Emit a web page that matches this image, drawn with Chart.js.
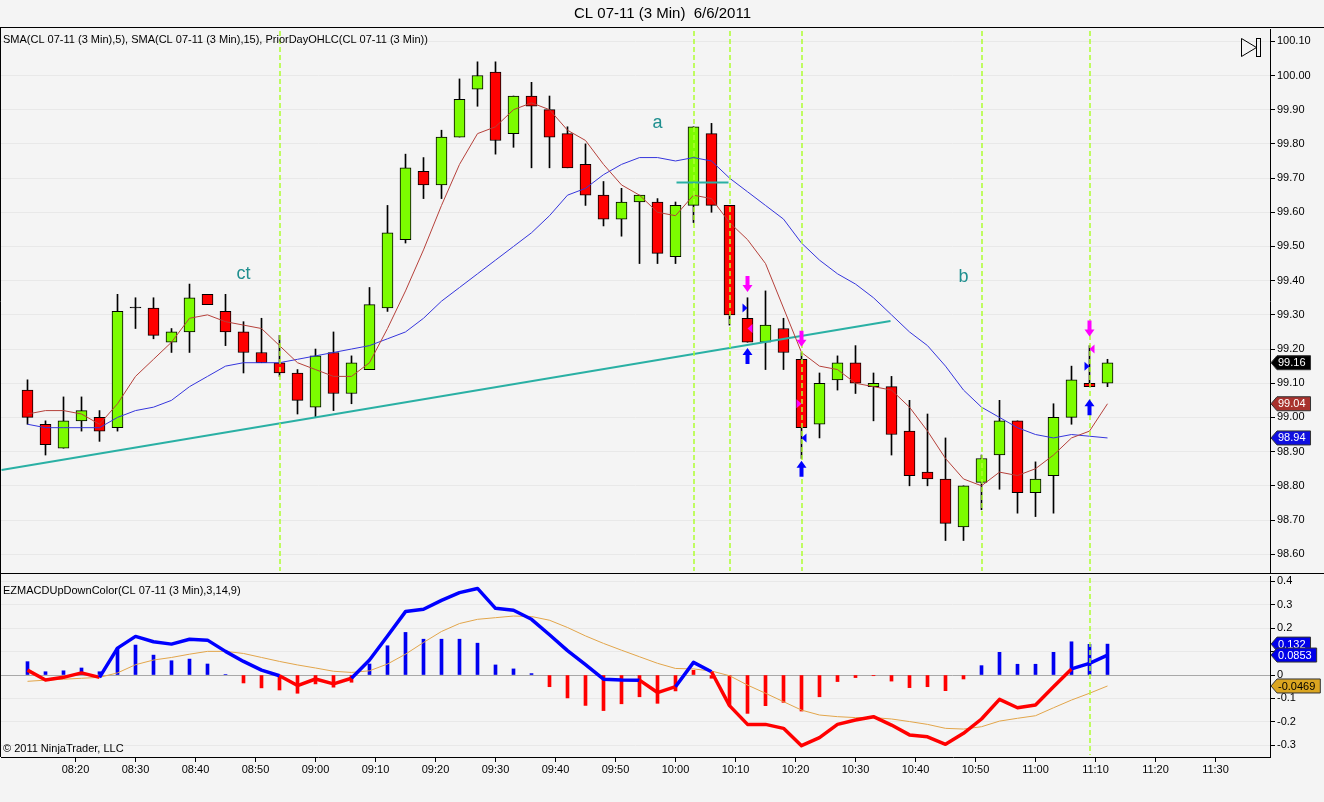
<!DOCTYPE html>
<html>
<head>
<meta charset="utf-8">
<title>CL 07-11 (3 Min) 6/6/2011</title>
<script src="https://cdn.jsdelivr.net/npm/chart.js@4.4.1/dist/chart.umd.min.js"></script>
<style>
  html, body { margin: 0; padding: 0; background: #f4f4f4; overflow: hidden; }
  #wrap { position: relative; width: 1324px; height: 802px; }
  #priceChart { position: absolute; left: 0; top: 0; }
  #macdChart { position: absolute; left: 0; top: 575px; }
</style>
</head>
<body>
<div id="wrap">
  <canvas id="priceChart" width="1324" height="575"></canvas>
  <canvas id="macdChart" width="1324" height="227"></canvas>
</div>
<script>
// 3 min bars
const times = ['08:12','08:15','08:18','08:21','08:24','08:27','08:30','08:33','08:36','08:39',
  '08:42','08:45','08:48','08:51','08:54','08:57','09:00','09:03','09:06','09:09',
  '09:12','09:15','09:18','09:21','09:24','09:27','09:30','09:33','09:36','09:39',
  '09:42','09:45','09:48','09:51','09:54','09:57','10:00','10:03','10:06','10:09',
  '10:12','10:15','10:18','10:21','10:24','10:27','10:30','10:33','10:36','10:39',
  '10:42','10:45','10:48','10:51','10:54','10:57','11:00','11:03','11:06','11:09','11:12'];

const opens = [99.08, 98.98, 98.91, 98.99, 99.00, 98.97, 99.32, 99.32, 99.22, 99.25,
  99.36, 99.31, 99.25, 99.19, 99.16, 99.13, 99.03, 99.19, 99.07, 99.14,
  99.32, 99.52, 99.72, 99.68, 99.82, 99.96, 100.01, 99.83, 99.94, 99.90,
  99.83, 99.74, 99.65, 99.58, 99.63, 99.63, 99.47, 99.62, 99.83, 99.62,
  99.29, 99.22, 99.26, 99.17, 98.98, 99.11, 99.16, 99.09, 99.09, 98.96,
  98.84, 98.82, 98.68, 98.81, 98.89, 98.99, 98.78, 98.83, 99.00, 99.10, 99.10];
const highs = [99.11, 98.99, 99.06, 99.06, 99.02, 99.36, 99.35, 99.35, 99.26, 99.39,
  99.36, 99.36, 99.28, 99.29, 99.24, 99.14, 99.20, 99.25, 99.18, 99.38,
  99.62, 99.77, 99.76, 99.84, 99.99, 100.04, 100.04, 99.94, 99.98, 99.94,
  99.85, 99.80, 99.69, 99.67, 99.65, 99.64, 99.63, 99.85, 99.86, 99.62,
  99.35, 99.37, 99.29, 99.19, 99.13, 99.18, 99.21, 99.13, 99.12, 99.05,
  99.01, 98.94, 98.80, 98.89, 99.05, 98.99, 98.87, 99.04, 99.15, 99.21, 99.17];
const lows = [98.98, 98.89, 98.91, 98.96, 98.93, 98.96, 99.26, 99.23, 99.19, 99.19,
  99.33, 99.21, 99.13, 99.16, 99.12, 99.01, 99.00, 99.02, 99.04, 99.14,
  99.31, 99.51, 99.64, 99.64, 99.82, 99.91, 99.77, 99.79, 99.73, 99.73,
  99.73, 99.62, 99.56, 99.53, 99.45, 99.45, 99.45, 99.57, 99.60, 99.27,
  99.22, 99.14, 99.14, 98.88, 98.94, 99.08, 99.07, 98.99, 98.89, 98.80,
  98.80, 98.64, 98.64, 98.73, 98.79, 98.72, 98.71, 98.72, 98.98, 99.09, 99.09];
const closes = [99.00, 98.92, 98.99, 99.02, 98.96, 99.31, 99.32, 99.24, 99.25, 99.35,
  99.33, 99.25, 99.19, 99.16, 99.13, 99.05, 99.18, 99.07, 99.16, 99.33,
  99.54, 99.73, 99.68, 99.82, 99.93, 100.00, 99.81, 99.94, 99.91, 99.82,
  99.73, 99.65, 99.58, 99.63, 99.65, 99.48, 99.62, 99.85, 99.62, 99.30,
  99.22, 99.27, 99.19, 98.97, 99.10, 99.16, 99.10, 99.10, 98.95, 98.83,
  98.82, 98.69, 98.80, 98.88, 98.99, 98.78, 98.82, 99.00, 99.11, 99.09, 99.16];

// SMA(5) and SMA(15)
const sma5 = [99.01, 99.02, 99.02, 99.01, 98.98, 99.04, 99.12, 99.17, 99.22, 99.29,
  99.30, 99.28, 99.27, 99.26, 99.21, 99.16, 99.14, 99.12, 99.12, 99.16,
  99.26, 99.37, 99.49, 99.62, 99.74, 99.83, 99.85, 99.90, 99.92, 99.90,
  99.84, 99.81, 99.74, 99.68, 99.65, 99.60, 99.59, 99.65, 99.64, 99.57,
  99.52, 99.45, 99.32, 99.19, 99.15, 99.14, 99.10, 99.09, 99.08, 99.03,
  98.96, 98.88, 98.82, 98.80, 98.84, 98.83, 98.85, 98.89, 98.94, 98.96, 99.04];
const sma15 = [98.98, 98.97, 98.97, 98.97, 98.97, 99.00, 99.02, 99.03, 99.05, 99.09,
  99.12, 99.15, 99.16, 99.16, 99.16, 99.17, 99.18, 99.19, 99.20, 99.21,
  99.23, 99.25, 99.29, 99.34, 99.38, 99.42, 99.46, 99.50, 99.54, 99.59,
  99.65, 99.67, 99.71, 99.74, 99.76, 99.76, 99.75, 99.76, 99.75, 99.70,
  99.66, 99.62, 99.58, 99.51, 99.46, 99.42, 99.39, 99.35, 99.30, 99.25,
  99.21, 99.15, 99.08, 99.03, 99.00, 98.97, 98.95, 98.94, 98.95, 98.945, 98.94];

// EZMACDUpDownColor(3,14,9)
const macd = [0.021, -0.021, -0.010, 0.009, -0.010, 0.115, 0.165, 0.142, 0.132, 0.153,
  0.149, 0.101, 0.058, 0.021, -0.003, -0.045, -0.017, -0.038, -0.014, 0.064,
  0.167, 0.271, 0.281, 0.319, 0.352, 0.370, 0.285, 0.277, 0.238, 0.172,
  0.104, 0.044, -0.018, -0.021, -0.022, -0.075, -0.050, 0.054, 0.014, -0.131,
  -0.211, -0.211, -0.228, -0.302, -0.268, -0.211, -0.192, -0.178, -0.214, -0.256,
  -0.264, -0.296, -0.249, -0.188, -0.104, -0.140, -0.128, -0.050, 0.026, 0.050, 0.0853];
const signal = [-0.027, -0.022, -0.018, -0.014, -0.010, 0.009, 0.044, 0.064, 0.075, 0.089,
  0.101, 0.101, 0.092, 0.075, 0.058, 0.043, 0.030, 0.016, 0.011, 0.018,
  0.047, 0.089, 0.139, 0.186, 0.220, 0.238, 0.245, 0.252, 0.250, 0.234,
  0.203, 0.167, 0.135, 0.106, 0.078, 0.050, 0.028, 0.026, 0.017, -0.003,
  -0.043, -0.078, -0.114, -0.150, -0.171, -0.178, -0.182, -0.182, -0.188, -0.199,
  -0.211, -0.228, -0.231, -0.221, -0.197, -0.185, -0.174, -0.140, -0.107, -0.078, -0.0469];
const hist = [0.057, 0.014, 0.018, 0.030, 0.014, 0.115, 0.128, 0.085, 0.061, 0.068,
  0.047, 0.002, -0.034, -0.055, -0.064, -0.078, -0.038, -0.052, -0.031, 0.047,
  0.125, 0.182, 0.153, 0.153, 0.153, 0.136, 0.043, 0.026, 0.006, -0.050,
  -0.098, -0.130, -0.152, -0.123, -0.093, -0.121, -0.068, 0.020, -0.014, -0.128,
  -0.164, -0.131, -0.117, -0.154, -0.093, -0.028, -0.011, -0.003, -0.026, -0.054,
  -0.050, -0.067, -0.017, 0.040, 0.097, 0.046, 0.046, 0.097, 0.142, 0.131, 0.132];
// up/down colour per bar (b = blue, r = red)
const macdSide = 'rrrrrbbbbbbbbbbrrrrbbbbbbbbbbbbbbbbrrbbrrrrrrrrrrrrrrrrrrrrbb';
const histSide = 'bbbbbbbbbbbbrrrrrrrbbbbbbbbbbrrrrrrrrrrrrrrrrrrrrrrrrbbbbbbbb';

// axis ticks
const priceTicks = [98.6, 98.7, 98.8, 98.9, 99.0, 99.1, 99.2, 99.3, 99.4, 99.5, 99.6, 99.7, 99.8, 99.9, 100.0, 100.1];
const macdTicks = [-0.3, -0.2, -0.1, 0, 0.1, 0.2, 0.3, 0.4];
const timeTicks = ['08:20','08:30','08:40','08:50','09:00','09:10','09:20','09:30','09:40','09:50',
  '10:00','10:10','10:20','10:30','10:40','10:50','11:00','11:10','11:20','11:30'];

// drawn objects
const trendTimes = ['08:07:40', '10:35:50'];
const trendPrices = [98.846, 99.282];
const levelTimes = ['10:00:10', '10:08:50'];
const levelPrices = [99.687, 99.687];
const noteText = ['ct', 'a', 'b'];
const noteTimes = ['08:48', '09:57', '10:48'];
const notePrices = [99.42, 99.86, 99.41];
const markBars = [41, 41, 41, 41, 44, 44, 44, 44, 60, 60, 60, 60];
const markPrices = [99.39, 99.32, 99.26, 99.18, 99.23, 99.04, 98.94, 98.85, 99.26, 99.15, 99.20, 99.03];
const markKinds = ['dn', 'bR', 'mL', 'up', 'dn', 'mR', 'bL', 'up', 'dn', 'bR', 'mL', 'up'];
const vlineBars = [15, 38, 40, 44, 54, 60];
const macdVlineBars = [60];

const FONT = '"Liberation Sans", Arial, sans-serif';
Chart.defaults.font.family = FONT;
Chart.defaults.font.size = 11;
Chart.defaults.color = '#000';

const toMin = s => { const p = s.split(':').map(Number); return (p[0] - 8) * 60 + p[1] + (p[2] || 0) / 60; };
const xs = times.map(toMin);
const X_MIN = 7.5833, X_MAX = 219.0833;
const GREEN = '#7cfc00', RED = '#ff0000', BLUE = '#0000f0';
const DASH = 'rgba(173,255,47,0.75)';

function pts(xv, yv) { return xv.map((x, i) => ({ x: x, y: yv[i] })); }

// no label overhang padding, panels are butted together like the original
function noPad(s) { s.paddingTop = 0; s.paddingBottom = 0; s.paddingLeft = 0; s.paddingRight = 0; }

function tag(ctx, x, y, text, bg, fg) {
  ctx.font = '11px ' + FONT;
  const w = ctx.measureText(text).width + 12;
  ctx.beginPath();
  ctx.moveTo(x, y);
  ctx.lineTo(x + 6, y - 7);
  ctx.lineTo(x + w, y - 7);
  ctx.lineTo(x + w, y + 7);
  ctx.lineTo(x + 6, y + 7);
  ctx.closePath();
  ctx.fillStyle = bg;
  ctx.fill();
  ctx.strokeStyle = '#333';
  ctx.lineWidth = 1;
  ctx.stroke();
  ctx.fillStyle = fg;
  ctx.textAlign = 'left';
  ctx.textBaseline = 'middle';
  ctx.fillText(text, x + 7, y + 0.5);
}

function arrow(ctx, x, y, up, color) {
  const s = up ? -1 : 1;
  ctx.fillStyle = color;
  ctx.beginPath();
  ctx.moveTo(x - 2, y - 8 * s);
  ctx.lineTo(x + 2, y - 8 * s);
  ctx.lineTo(x + 2, y + 1 * s);
  ctx.lineTo(x + 5, y + 1 * s);
  ctx.lineTo(x, y + 8 * s);
  ctx.lineTo(x - 5, y + 1 * s);
  ctx.lineTo(x - 2, y + 1 * s);
  ctx.closePath();
  ctx.fill();
}

function tri(ctx, x, y, right, color) {
  ctx.fillStyle = color;
  ctx.beginPath();
  if (right) {
    ctx.moveTo(x - 2, y - 4.5); ctx.lineTo(x + 3, y); ctx.lineTo(x - 2, y + 4.5);
  } else {
    ctx.moveTo(x + 2, y - 4.5); ctx.lineTo(x - 3, y); ctx.lineTo(x + 2, y + 4.5);
  }
  ctx.closePath();
  ctx.fill();
}

function dashedBars(chart, bars) {
  const { ctx, chartArea: a, scales: { x } } = chart;
  ctx.save();
  ctx.strokeStyle = DASH;
  ctx.lineWidth = 2;
  ctx.setLineDash([5, 3]);
  bars.forEach(b => {
    const px = Math.round(x.getPixelForValue(xs[b - 1]));
    ctx.beginPath();
    ctx.moveTo(px, a.top + 2);
    ctx.lineTo(px, a.bottom - 2);
    ctx.stroke();
  });
  ctx.restore();
}

const priceExtras = {
  id: 'priceExtras',
  afterDraw(chart) {
    const { ctx, chartArea: a, scales: { x, y } } = chart;
    dashedBars(chart, vlineBars);
    ctx.save();

    // signal markers
    markBars.forEach((b, i) => {
      const px = x.getPixelForValue(xs[b - 1]);
      const py = y.getPixelForValue(markPrices[i]);
      const k = markKinds[i];
      if (k === 'dn') arrow(ctx, px, py, false, '#ff00ff');
      else if (k === 'up') arrow(ctx, px, py, true, '#0000ff');
      else if (k === 'bR') tri(ctx, px - 3, py, true, '#0000ff');
      else if (k === 'bL') tri(ctx, px + 3, py, false, '#0000ff');
      else if (k === 'mR') tri(ctx, px - 3, py, true, '#ff00ff');
      else if (k === 'mL') tri(ctx, px + 3, py, false, '#ff00ff');
    });

    // text notes
    ctx.fillStyle = '#1f8f8f';
    ctx.font = '18px ' + FONT;
    ctx.textAlign = 'center';
    ctx.textBaseline = 'middle';
    noteText.forEach((t, i) => {
      ctx.fillText(t, x.getPixelForValue(toMin(noteTimes[i])), y.getPixelForValue(notePrices[i]));
    });

    // indicator legend
    ctx.fillStyle = '#000';
    ctx.font = '11px ' + FONT;
    ctx.textAlign = 'left';
    ctx.fillText('SMA(CL 07-11 (3 Min),5), SMA(CL 07-11 (3 Min),15), PriorDayOHLC(CL 07-11 (3 Min))', 3, 40, 428);

    // frame
    ctx.strokeStyle = '#000';
    ctx.lineWidth = 1;
    ctx.beginPath();
    ctx.moveTo(0, 27.5); ctx.lineTo(chart.width, 27.5);
    ctx.moveTo(0, a.bottom + 0.5); ctx.lineTo(chart.width, a.bottom + 0.5);
    ctx.moveTo(0.5, 27.5); ctx.lineTo(0.5, chart.height);
    ctx.stroke();

    // play-to-end icon
    ctx.beginPath();
    ctx.moveTo(1241.5, 38.5); ctx.lineTo(1256.5, 47.5); ctx.lineTo(1241.5, 56.5); ctx.closePath();
    ctx.stroke();
    ctx.strokeRect(1256.5, 38.5, 4, 18);

    // last value tags
    const n = closes.length - 1;
    tag(ctx, a.right + 1, y.getPixelForValue(closes[n]), closes[n].toFixed(2), '#000', '#fff');
    tag(ctx, a.right + 1, y.getPixelForValue(sma5[n]), sma5[n].toFixed(2), '#a8322d', '#fff');
    tag(ctx, a.right + 1, y.getPixelForValue(sma15[n]), sma15[n].toFixed(2), '#1010e0', '#fff');
    ctx.restore();
  }
};

const macdExtras = {
  id: 'macdExtras',
  afterDraw(chart) {
    const { ctx, chartArea: a, scales: { y } } = chart;
    dashedBars(chart, macdVlineBars);
    ctx.save();
    ctx.fillStyle = '#000';
    ctx.font = '11px ' + FONT;
    ctx.textAlign = 'left';
    ctx.textBaseline = 'middle';
    ctx.fillText('EZMACDUpDownColor(CL 07-11 (3 Min),3,14,9)', 3, 16, 238);
    ctx.fillText('\u00a9 2011 NinjaTrader, LLC', 3, a.bottom - 8, 124);
    ctx.strokeStyle = '#000';
    ctx.lineWidth = 1;
    ctx.beginPath();
    ctx.moveTo(0.5, 0); ctx.lineTo(0.5, a.bottom);
    ctx.stroke();
    const n = macd.length - 1;
    const fmt = v => String(Number(v.toPrecision(3)));
    tag(ctx, a.right + 1, y.getPixelForValue(hist[n]), fmt(hist[n]), '#0000e8', '#fff');
    tag(ctx, a.right + 1, y.getPixelForValue(macd[n]), fmt(macd[n]), '#0000e8', '#fff');
    tag(ctx, a.right + 1, y.getPixelForValue(signal[n]), fmt(signal[n]), '#daa520', '#000');
    ctx.restore();
  }
};

const yAxisBase = {
  position: 'right',
  afterFit: s => { s.width = 54; noPad(s); },
  grid: { color: '#e8e8e8', tickColor: '#000', tickLength: 5 },
  border: { color: '#000' },
  ticks: { padding: 2, color: '#000', font: { size: 11 } }
};

new Chart(document.getElementById('priceChart'), {
  type: 'bar',
  data: {
    datasets: [
      { type: 'line', label: 'SMA 5', data: pts(xs, sma5), borderColor: '#b5403a', borderWidth: 1, pointRadius: 0, order: 0 },
      { type: 'line', label: 'SMA 15', data: pts(xs, sma15), borderColor: '#3535dc', borderWidth: 1, pointRadius: 0, order: 0 },
      { type: 'line', label: 'Trend', data: pts(trendTimes.map(toMin), trendPrices), borderColor: '#2ab0a4', borderWidth: 2, pointRadius: 0, order: 0 },
      { type: 'line', label: 'Level', data: pts(levelTimes.map(toMin), levelPrices), borderColor: '#2ab0a4', borderWidth: 2, pointRadius: 0, order: 0 },
      {
        label: 'Body',
        data: xs.map((x, i) => ({ x: x, y: [opens[i], closes[i]] })),
        backgroundColor: closes.map((c, i) => c > opens[i] ? GREEN : (c < opens[i] ? RED : '#000')),
        borderColor: '#000', borderWidth: 1, borderSkipped: false,
        barThickness: 11, minBarLength: 1, grouped: false, order: 1
      },
      {
        label: 'Wick',
        data: xs.map((x, i) => ({ x: x, y: [lows[i], highs[i]] })),
        backgroundColor: '#000', borderWidth: 0,
        barThickness: 1, grouped: false, order: 2
      }
    ]
  },
  options: {
    responsive: false,
    devicePixelRatio: 1,
    animation: false,
    events: [],
    layout: { padding: { left: 1, right: 0, top: 0, bottom: 2 } },
    plugins: {
      legend: { display: false },
      tooltip: { enabled: false },
      title: {
        display: true,
        text: 'CL 07-11 (3 Min)  6/6/2011',
        color: '#000',
        font: { size: 15, weight: 'normal' },
        padding: { top: 5, bottom: 6 }
      }
    },
    scales: {
      x: { type: 'linear', display: false, min: X_MIN, max: X_MAX, offset: false, grid: { offset: false } },
      y: Object.assign({}, yAxisBase, {
        min: 98.545, max: 100.136,
        afterBuildTicks: s => { s.ticks = priceTicks.map(v => ({ value: v })); },
        ticks: Object.assign({}, yAxisBase.ticks, { callback: v => v.toFixed(2) })
      })
    }
  },
  plugins: [priceExtras]
});

new Chart(document.getElementById('macdChart'), {
  type: 'bar',
  data: {
    datasets: [
      {
        type: 'line', label: 'MACD', data: pts(xs, macd),
        borderColor: RED, borderWidth: 3.5, pointRadius: 0, borderJoinStyle: 'round', order: 0,
        segment: { borderColor: c => macdSide[c.p1DataIndex] === 'b' ? '#0000ff' : RED }
      },
      { type: 'line', label: 'Avg', data: pts(xs, signal), borderColor: '#e2a54a', borderWidth: 1, pointRadius: 0, order: 1 },
      {
        label: 'Diff', data: pts(xs, hist),
        backgroundColor: hist.map((v, i) => histSide[i] === 'b' ? BLUE : RED),
        barThickness: 3, grouped: false, order: 2
      }
    ]
  },
  options: {
    responsive: false,
    devicePixelRatio: 1,
    animation: false,
    events: [],
    layout: { padding: { left: 1, right: 0, top: 1, bottom: 0 } },
    plugins: { legend: { display: false }, tooltip: { enabled: false } },
    scales: {
      x: {
        type: 'linear', min: X_MIN, max: X_MAX, offset: false,
        afterFit: s => { s.height = 45; noPad(s); },
        afterBuildTicks: s => { s.ticks = timeTicks.map(t => ({ value: toMin(t) })); },
        grid: { offset: false, drawOnChartArea: false, tickColor: '#000', tickLength: 5 },
        border: { color: '#000' },
        ticks: { autoSkip: false, maxRotation: 0, padding: 1, color: '#000', font: { size: 11 },
          callback: (v, i) => timeTicks[i] }
      },
      y: Object.assign({}, yAxisBase, {
        min: -0.3504, max: 0.4231,
        afterBuildTicks: s => { s.ticks = macdTicks.map(v => ({ value: v })); },
        grid: { color: c => c.tick && c.tick.value === 0 ? '#a8a8a8' : '#e8e8e8', tickColor: '#000', tickLength: 5 },
        ticks: Object.assign({}, yAxisBase.ticks, { callback: v => v === 0 ? '0' : v.toFixed(1) })
      })
    }
  },
  plugins: [macdExtras]
});
</script>
</body>
</html>
